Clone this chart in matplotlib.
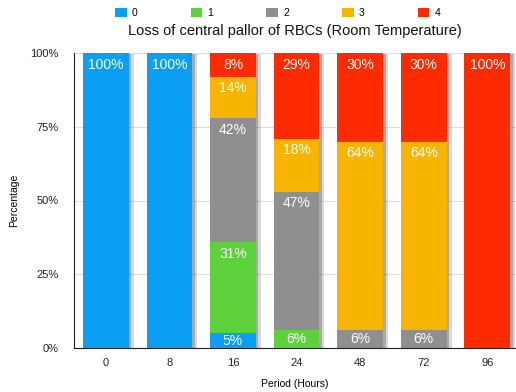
import matplotlib
matplotlib.use("Agg")
import matplotlib.pyplot as plt
import matplotlib.patheffects as pe
from matplotlib.patches import Patch
import numpy as np

plt.rcParams["font.family"] = ["Liberation Sans", "DejaVu Sans"]

periods = ["0", "8", "16", "24", "48", "72", "96"]
grades = ["0", "1", "2", "3", "4"]
grade0 = [100, 100, 5, 0, 0, 0, 0]
grade1 = [0, 0, 31, 6, 0, 0, 0]
grade2 = [0, 0, 42, 47, 6, 6, 0]
grade3 = [0, 0, 14, 18, 64, 64, 0]
grade4 = [0, 0, 8, 29, 30, 30, 100]
colors = ["#0a9ff2", "#5cd13c", "#8f8f8f", "#f7b500", "#fe2a00"]

series = [grade0, grade1, grade2, grade3, grade4]

fig = plt.figure(figsize=(5.16, 3.92), dpi=100)
ax = fig.add_axes([74 / 516, 1 - 348 / 392, 442 / 516, 295 / 392])

x = np.arange(len(periods))
width = 0.72
totals = np.sum(np.array(series, dtype=float), axis=0)

# soft drop shadow behind each full stacked column
shadow = [pe.SimplePatchShadow(offset=(3.5, -1), shadow_rgbFace="#666666", alpha=0.25),
          pe.SimplePatchShadow(offset=(1.8, -0.5), shadow_rgbFace="#555555", alpha=0.35),
          pe.Normal()]
ax.bar(x, totals, width=width, color="white", zorder=2, path_effects=shadow)

bottom = np.zeros(len(periods))
for vals, col in zip(series, colors):
    vals = np.array(vals, dtype=float)
    ax.bar(x, vals, bottom=bottom, width=width, color=col, zorder=3)
    for xi, v, b in zip(x, vals, bottom):
        if v <= 0:
            continue
        top = b + v
        y = top - 4.0 if v >= 9 else b + v / 2
        ax.text(xi, y, f"{int(v)}%", ha="center", va="center", color="white",
                fontsize=10, zorder=5)
    bottom += vals

ax.set_xlim(-0.5, 6.45)
ax.set_ylim(0, 100)
ax.set_yticks([0, 25, 50, 75, 100])
ax.set_yticklabels(["0%", "25%", "50%", "75%", "100%"])
ax.set_xticks(x)
ax.set_xticklabels(periods)
ax.tick_params(axis="both", length=0, labelsize=8, colors="#222222")
ax.tick_params(axis="y", pad=11)
ax.tick_params(axis="x", pad=7)
ax.yaxis.grid(True, color="#dddddd", linewidth=0.8, zorder=0)
for s in ["top", "right"]:
    ax.spines[s].set_visible(False)
ax.spines["left"].set_color("#222222")
ax.spines["bottom"].set_color("#222222")
ax.set_ylabel("Percentage", fontsize=7.5, labelpad=8)
ax.set_xlabel("Period (Hours)", fontsize=7.5, labelpad=8)
ax.set_title("Loss of central pallor of RBCs (Room Temperature)", fontsize=10.5, pad=13,
             color="#111111")

handles = [Patch(facecolor=c) for c in colors]
fig.legend(handles, grades, loc="upper center", bbox_to_anchor=(0.538, 0.995), ncol=5,
           frameon=False, fontsize=7.5, handlelength=1.1, handleheight=0.9,
           handletextpad=0.5, columnspacing=5.1, borderaxespad=0.2)

fig.savefig("out.png", dpi=100)
